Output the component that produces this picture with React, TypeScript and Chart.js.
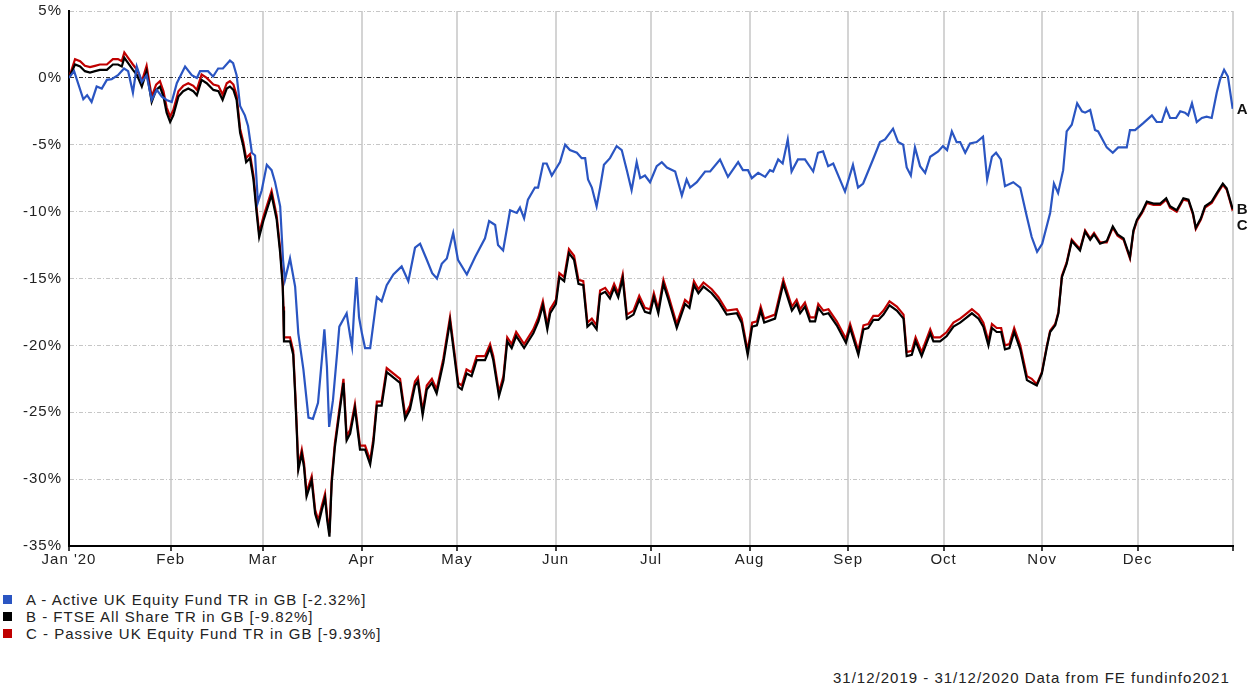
import React, { useEffect, useRef } from 'react';
import { Chart, registerables } from 'chart.js';

Chart.register(...registerables);

// x values are calendar days counted from 31/12/2019 (day 0)
const monthTickDays = [0, 32, 61, 92, 122, 153, 183, 214, 245, 275, 306, 336, 366];
const monthLabels = ["Jan '20", 'Feb', 'Mar', 'Apr', 'May', 'Jun', 'Jul', 'Aug', 'Sep', 'Oct', 'Nov', 'Dec', ''];

const seriesNames = [
  'A - Active UK Equity Fund TR in GB [-2.32%]',
  'B - FTSE All Share TR in GB [-9.82%]',
  'C - Passive UK Equity Fund TR in GB [-9.93%]',
];
const seriesTags = ['A', 'B', 'C'];
const seriesColors = ['#2a55c2', '#000000', '#c00000'];
const footerText = '31/12/2019 - 31/12/2020 Data from FE fundinfo2021';

const daysA = [
  0, 1.6, 4.5, 5.7, 7.1, 8.7, 10.3, 11.9, 13.4, 15.4,
  17.3, 18.6, 20.1, 21.3, 22.9, 24.4, 26.0, 27.6, 29.2, 30.7,
  32.3, 33.9, 36.5, 38.6, 40.2, 41.2, 43.7, 45.3, 46.9, 48.4,
  50.6, 51.6, 52.7, 53.8, 55.3, 56.3, 57.5, 58.5, 59.4, 60.6,
  62.2, 63.7, 64.8, 66.4, 67.3, 67.9, 69.5, 71.1, 72.1, 73.7,
  75.3, 76.7, 78.3, 79.6, 80.3, 81.1, 81.8, 83.0, 84.3, 85.0,
  87.3, 88.4, 89.0, 89.6, 90.4, 91.2, 92.1, 93.1, 94.7, 96.8,
  98.3, 99.9, 102.0, 104.6, 106.7, 108.8, 110.4, 112.5, 114.2, 115.7,
  117.2, 118.8, 120.8, 122.3, 125.1, 127.7, 130.8, 132.1, 134.0, 134.9,
  136.5, 138.7, 140.8, 141.8, 143.1, 144.3, 146.5, 147.5, 149.1, 150.2,
  151.8, 154.4, 156.0, 157.5, 159.7, 161.2, 162.3, 163.2, 164.4, 165.9,
  167.0, 168.2, 170.1, 172.2, 173.8, 175.4, 176.9, 178.5, 179.6, 181.1,
  182.7, 184.8, 186.4, 188.0, 190.6, 192.7, 194.2, 195.3, 197.4, 200.0,
  201.6, 204.7, 207.2, 210.4, 211.9, 213.5, 214.7, 216.7, 218.9, 220.4,
  221.4, 223.0, 224.4, 226.0, 227.2, 229.2, 231.4, 234.0, 235.5, 237.1,
  238.7, 240.3, 244.0, 246.5, 248.1, 249.7, 252.8, 255.0, 256.6, 259.1,
  260.7, 262.3, 263.4, 264.7, 266.0, 267.6, 269.2, 270.8, 273.3, 274.8,
  276.1, 277.6, 279.1, 280.2, 281.8, 283.3, 285.4, 287.4, 288.7, 290.2,
  291.5, 293.0, 294.3, 296.9, 299.1, 301.2, 302.7, 304.4, 306.0, 308.5,
  309.7, 311.0, 312.6, 313.7, 315.3, 317.0, 318.5, 319.5, 321.1, 322.6,
  323.6, 326.3, 328.2, 329.9, 332.6, 333.6, 335.2, 337.7, 340.5, 342.0,
  343.6, 345.0, 346.2, 348.1, 349.4, 350.9, 351.9, 353.1, 354.6, 356.2,
  357.7, 359.3, 360.9, 361.9, 363.2, 364.4, 365.9,
];
const valsA = [
  0, 0.5, -1.6, -1.3, -1.8, -0.65, -0.8, -0.15, -0.1, 0.2,
  0.7, 0.5, -1.1, 0.85, -0.3, 0.2, -1.65, -0.9, -1.4, -1.65,
  -1.8, -0.4, 0.85, 0.2, 0, 0.5, 0.5, 0.1, 0.7, 0.7,
  1.3, 1.1, 0.2, -2.1, -2.8, -3.6, -5.6, -5.8, -9.3, -8.4,
  -6.5, -6.9, -7.8, -9.6, -13.6, -15.1, -13.5, -15.6, -19.1, -21.8,
  -25.4, -25.5, -24.3, -20.8, -18.8, -21.6, -26.1, -24.1, -20.6, -18.6,
  -17.6, -19.3, -20.1, -17.6, -14.9, -17.9, -19.1, -20.2, -20.2, -16.4,
  -16.7, -15.5, -14.7, -14.1, -15.2, -12.7, -12.4, -13.6, -14.6, -15.0,
  -13.9, -13.5, -11.6, -13.6, -14.7, -13.4, -12.0, -10.7, -11.0, -12.5,
  -12.9, -9.9, -10.1, -9.7, -10.5, -9.1, -8.2, -8.2, -6.4, -6.4,
  -7.3, -6.3, -5.0, -5.4, -5.6, -6.0, -6.0, -7.6, -8.2, -9.6,
  -8.2, -6.5, -6.0, -5.1, -5.4, -6.9, -8.4, -6.3, -7.5, -7.3,
  -7.8, -6.6, -6.3, -6.7, -7.0, -8.8, -7.6, -8.2, -7.8, -7.0,
  -7.0, -6.1, -7.4, -6.3, -6.9, -6.9, -7.5, -7.1, -7.4, -6.9,
  -7.0, -6.1, -6.4, -4.6, -7.0, -6.1, -6.1, -7.0, -5.6, -5.5,
  -6.6, -6.4, -8.5, -6.5, -8.2, -7.9, -6.1, -4.8, -4.6, -3.8,
  -4.8, -5.0, -6.7, -7.3, -5.2, -6.6, -7.1, -5.9, -5.5, -5.1,
  -5.4, -4.0, -4.8, -4.8, -5.6, -4.9, -4.8, -4.4, -7.6, -5.9,
  -5.6, -6.1, -8.1, -7.8, -8.2, -10.4, -11.9, -13.0, -12.4, -10.1,
  -7.9, -8.6, -6.9, -4.0, -3.5, -1.9, -2.5, -2.6, -2.4, -3.9,
  -4.0, -5.2, -5.6, -5.2, -5.2, -3.9, -3.9, -3.4, -2.8, -3.3,
  -3.3, -2.3, -3.0, -3.0, -2.5, -2.6, -2.8, -1.9, -3.3, -3.0,
  -2.9, -3.0, -1.1, -0.15, 0.6, 0.1, -2.32,
];

const daysBC = [
  0, 1.9, 3.5, 5.0, 6.6, 8.2, 9.7, 11.9, 13.8, 15.4,
  16.6, 17.4, 18.6, 20.1, 21.4, 22.9, 24.4, 26.0, 27.4, 28.6,
  29.7, 30.7, 31.8, 32.8, 34.4, 35.9, 37.5, 39.1, 40.2, 41.7,
  43.3, 45.4, 47.0, 48.3, 49.6, 50.6, 51.7, 52.7, 53.8, 54.8,
  55.7, 56.9, 58.0, 59.0, 59.8, 61.1, 63.7, 65.3, 66.4, 67.2,
  67.4, 67.6, 69.5, 70.5, 71.1, 71.6, 72.1, 73.2, 73.9, 74.7,
  76.3, 77.4, 78.4, 79.5, 80.5, 81.2, 81.9, 82.6, 83.6, 85.0,
  86.3, 87.3, 88.4, 89.9, 91.5, 93.1, 94.7, 95.7, 96.8, 98.3,
  99.9, 104.1, 105.7, 107.2, 108.8, 109.7, 111.2, 112.5, 114.1, 115.6,
  117.7, 119.8, 120.8, 122.4, 123.5, 125.0, 126.6, 128.2, 130.8, 132.4,
  133.4, 135.2, 136.6, 137.8, 139.2, 140.6, 143.1, 146.0, 147.6, 149.0,
  150.4, 151.3, 153.1, 154.2, 155.7, 157.2, 158.8, 160.2, 161.7, 163.0,
  164.4, 165.9, 167.0, 168.6, 170.1, 171.4, 172.7, 174.1, 175.4, 177.5,
  179.3, 181.1, 182.7, 183.9, 185.3, 186.9, 188.5, 191.1, 193.7, 195.1,
  196.5, 197.9, 199.5, 202.1, 204.2, 206.8, 210.0, 211.5, 213.4, 214.8,
  216.3, 217.5, 218.6, 222.0, 224.6, 227.3, 228.8, 229.9, 231.4, 233.0,
  234.6, 235.6, 237.2, 238.8, 241.4, 244.3, 245.6, 248.2, 249.8, 251.3,
  252.9, 254.5, 256.1, 258.0, 260.3, 262.4, 263.4, 265.0, 266.2, 268.1,
  270.8, 271.8, 273.9, 276.0, 278.1, 280.2, 281.8, 283.9, 286.0, 287.5,
  289.1, 290.2, 291.7, 293.1, 294.3, 295.7, 297.2, 299.1, 301.2, 302.7,
  304.3, 305.9, 307.5, 308.5, 310.1, 311.1, 312.2, 313.7, 315.3, 316.4,
  317.9, 319.5, 321.1, 322.3, 324.2, 326.3, 328.2, 329.7, 331.6, 333.6,
  334.7, 335.8, 337.4, 338.9, 341.0, 343.1, 345.0, 346.2, 348.3, 350.4,
  352.0, 353.4, 354.3, 355.9, 357.2, 359.3, 361.2, 362.8, 364.0, 364.8,
  365.9,
];
const valsB = [
  0, 1.0, 0.85, 0.5, 0.4, 0.5, 0.6, 0.6, 1.0, 1.0,
  0.85, 1.5, 1.1, 0.6, 0.2, -0.65, 0.5, -1.8, -0.9, -0.65,
  -1.4, -2.6, -3.3, -2.8, -1.4, -1.0, -0.8, -1.0, -1.3, -0.15,
  -0.4, -0.9, -1.0, -1.65, -0.8, -0.65, -0.9, -1.65, -4.1, -5.1,
  -6.3, -6.0, -7.6, -10.1, -11.9, -10.7, -8.75, -10.6, -13.1, -15.6,
  -17.4, -19.7, -19.7, -20.7, -23.6, -26.3, -29.3, -28.1, -29.1, -31.3,
  -30.1, -32.6, -33.4, -32.3, -31.4, -33.1, -34.3, -30.3, -27.6, -25.1,
  -22.8, -27.1, -26.6, -24.7, -27.8, -27.8, -28.9, -27.3, -24.5, -24.5,
  -22.0, -22.8, -25.5, -24.8, -23.0, -22.7, -25.2, -23.3, -22.8, -23.6,
  -21.3, -18.2, -20.1, -23.1, -23.3, -22.1, -22.3, -21.1, -21.1, -20.2,
  -21.1, -23.8, -22.6, -19.7, -20.2, -19.3, -20.2, -19.1, -18.2, -17.0,
  -18.8, -17.6, -16.9, -14.9, -15.2, -13.1, -13.6, -15.4, -15.5, -18.6,
  -18.3, -18.8, -16.2, -16.0, -16.5, -15.7, -16.4, -15.0, -18.0, -17.7,
  -16.6, -17.5, -17.6, -16.4, -17.6, -15.4, -16.6, -18.7, -16.9, -17.2,
  -15.5, -16.1, -15.6, -16.1, -16.7, -17.7, -17.6, -18.3, -20.7, -18.6,
  -18.5, -17.4, -18.3, -18.0, -15.4, -17.4, -16.9, -17.6, -17.1, -18.2,
  -18.2, -17.2, -17.7, -17.6, -18.5, -19.8, -18.7, -20.7, -18.8, -18.7,
  -18.1, -18.1, -17.7, -17.0, -17.4, -18.0, -20.8, -20.7, -19.7, -20.8,
  -19.1, -19.7, -19.7, -19.3, -18.6, -18.3, -18.0, -17.6, -18.0, -18.6,
  -20.0, -18.7, -19.0, -19.0, -20.3, -20.2, -19.0, -20.3, -22.6, -22.8,
  -23.0, -22.1, -20.1, -19.0, -18.5, -17.6, -14.9, -13.9, -12.2, -12.5,
  -12.9, -11.5, -12.1, -11.7, -12.4, -12.2, -11.1, -11.7, -12.0, -13.4,
  -11.4, -10.6, -10.0, -9.25, -9.4, -9.4, -9.0, -9.6, -9.9, -9.0,
  -9.1, -10.1, -11.2, -10.5, -9.6, -9.25, -8.5, -7.9, -8.25, -8.9,
  -9.82,
];
const valsC = [
  0, 1.4, 1.25, 0.9, 0.8, 0.9, 1.0, 1.0, 1.4, 1.4,
  1.25, 1.9, 1.5, 1.0, 0.6, -0.25, 0.9, -1.4, -0.5, -0.25,
  -1.0, -2.2, -2.9, -2.4, -1.0, -0.6, -0.4, -0.6, -0.9, 0.25,
  0.0, -0.5, -0.6, -1.25, -0.4, -0.25, -0.5, -1.3, -3.8, -4.8,
  -6.0, -5.7, -7.3, -9.8, -11.6, -10.4, -8.45, -10.3, -12.8, -15.3,
  -17.1, -19.4, -19.4, -20.4, -23.3, -26.0, -29.0, -27.8, -28.8, -31.0,
  -29.8, -32.3, -33.1, -32.0, -31.1, -32.8, -34.0, -30.0, -27.3, -24.8,
  -22.5, -26.8, -26.3, -24.4, -27.5, -27.5, -28.6, -27.0, -24.2, -24.2,
  -21.7, -22.5, -25.2, -24.5, -22.7, -22.4, -24.9, -23.0, -22.5, -23.3,
  -21.0, -17.9, -19.8, -22.8, -23.0, -21.8, -22.0, -20.8, -20.8, -19.9,
  -20.8, -23.5, -22.3, -19.4, -19.9, -19.0, -19.9, -18.8, -17.9, -16.7,
  -18.5, -17.3, -16.6, -14.6, -14.9, -12.8, -13.3, -15.1, -15.2, -18.3,
  -18.0, -18.5, -15.9, -15.7, -16.2, -15.4, -16.1, -14.7, -17.7, -17.4,
  -16.3, -17.2, -17.3, -16.1, -17.3, -15.1, -16.3, -18.4, -16.6, -16.9,
  -15.2, -15.8, -15.3, -15.8, -16.4, -17.4, -17.3, -18.0, -20.4, -18.3,
  -18.2, -17.1, -18.0, -17.7, -15.1, -17.1, -16.6, -17.3, -16.8, -17.9,
  -17.9, -16.9, -17.4, -17.3, -18.2, -19.5, -18.4, -20.4, -18.5, -18.4,
  -17.8, -17.8, -17.4, -16.7, -17.1, -17.7, -20.5, -20.4, -19.4, -20.5,
  -18.8, -19.4, -19.4, -19.0, -18.3, -18.0, -17.7, -17.3, -17.7, -18.3,
  -19.7, -18.4, -18.7, -18.7, -20.0, -19.9, -18.7, -20.0, -22.3, -22.5,
  -22.9, -22.0, -20.0, -18.9, -18.4, -17.5, -14.8, -13.8, -12.1, -12.4,
  -12.8, -11.4, -12.0, -11.6, -12.3, -12.3, -11.2, -11.8, -12.1, -13.5,
  -11.5, -10.7, -10.1, -9.35, -9.5, -9.5, -9.1, -9.7, -10.0, -9.1,
  -9.2, -10.2, -11.3, -10.6, -9.7, -9.35, -8.6, -8.0, -8.35, -9.0,
  -9.93,
];

const FONT = '"Liberation Sans", Arial, Helvetica, sans-serif';
const CANVAS_W = 1252;
const CANVAS_H = 580;
const PLOT_TOP = 11;
const PLOT_BOTTOM = 546;

const toPoints = (xs: number[], ys: number[]) => xs.map((x, i) => ({ x, y: ys[i] }));

const textSpacingPlugin = {
  id: 'textSpacing',
  beforeDraw(chart: any) {
    chart.ctx.letterSpacing = '1px';
  },
};

const endTagPlugin = {
  id: 'endTags',
  afterDatasetsDraw(chart: any) {
    const ctx = chart.ctx;
    ctx.save();
    ctx.letterSpacing = '0px';
    ctx.font = `bold 15px ${FONT}`;
    ctx.fillStyle = '#111';
    ctx.textAlign = 'left';
    ctx.textBaseline = 'middle';
    let prevY = -Infinity;
    chart.data.datasets.forEach((ds: any, i: number) => {
      const meta = chart.getDatasetMeta(i);
      const pt = meta.data[meta.data.length - 1];
      if (!pt) return;
      const y = Math.max(pt.y + 1, prevY + 16);
      ctx.fillText(seriesTags[i], pt.x + 4, y);
      prevY = y;
    });
    ctx.restore();
  },
};

export default function App() {
  const canvasRef = useRef<HTMLCanvasElement>(null);

  useEffect(() => {
    const canvas = canvasRef.current;
    if (!canvas) return;
    const chart = new Chart(canvas, {
      type: 'line',
      data: {
        datasets: [
          { label: seriesNames[0], data: toPoints(daysA, valsA), borderColor: seriesColors[0], backgroundColor: seriesColors[0], borderWidth: 2.2, pointRadius: 0, tension: 0, order: 0 },
          { label: seriesNames[1], data: toPoints(daysBC, valsB), borderColor: seriesColors[1], backgroundColor: seriesColors[1], borderWidth: 2.2, pointRadius: 0, tension: 0, order: 1 },
          { label: seriesNames[2], data: toPoints(daysBC, valsC), borderColor: seriesColors[2], backgroundColor: seriesColors[2], borderWidth: 2.2, pointRadius: 0, tension: 0, order: 2 },
        ],
      },
      options: {
        responsive: false,
        maintainAspectRatio: false,
        devicePixelRatio: 1,
        animation: false,
        events: [],
        layout: { padding: { left: 0, right: 19, top: PLOT_TOP, bottom: 0 } },
        plugins: {
          legend: { display: false },
          tooltip: { enabled: false },
          title: { display: false },
        },
        scales: {
          x: {
            type: 'linear',
            min: 0,
            max: 366,
            afterBuildTicks: (scale: any) => {
              scale.ticks = monthTickDays.map((v) => ({ value: v }));
            },
            afterFit: (scale: any) => {
              scale.height = CANVAS_H - PLOT_BOTTOM;
              scale.paddingTop = 0;
              scale.paddingBottom = 0;
            },
            ticks: {
              autoSkip: false,
              maxRotation: 0,
              padding: 1,
              color: '#222',
              font: { family: FONT, size: 15, lineHeight: 1 },
              callback: (_v: any, i: number) => monthLabels[i],
            },
            grid: {
              color: '#d4d4d4',
              lineWidth: 2,
              drawTicks: true,
              tickLength: 5,
              tickColor: '#000',
              tickWidth: 1.5,
            },
            border: { display: true, color: '#000', width: 2 },
          },
          y: {
            min: -35,
            max: 5,
            afterFit: (scale: any) => {
              scale.width = 69;
              scale.paddingTop = 0;
              scale.paddingBottom = 0;
            },
            ticks: {
              stepSize: 5,
              padding: 7,
              color: '#222',
              font: { family: FONT, size: 15 },
              callback: (v: any) => `${v}%`,
            },
            grid: {
              color: (c: any) => (c.tick && c.tick.value === 0 ? '#333' : '#c6c6c6'),
              lineWidth: 1,
              drawTicks: false,
            },
            border: { display: true, color: '#000', width: 2, dash: [4, 2, 1, 2] },
          },
        },
      },
      plugins: [textSpacingPlugin, endTagPlugin],
    } as any);
    return () => chart.destroy();
  }, []);

  const rowTops = [591, 608, 625];

  return (
    <div
      style={{
        position: 'absolute',
        left: 0,
        top: 0,
        width: 1252,
        height: 688,
        background: '#fff',
        overflow: 'hidden',
        fontFamily: FONT,
      }}
    >
      <canvas
        ref={canvasRef}
        width={CANVAS_W}
        height={CANVAS_H}
        style={{ position: 'absolute', left: 0, top: 0, width: CANVAS_W, height: CANVAS_H }}
      />
      {seriesNames.map((name, i) => (
        <div
          key={name}
          style={{
            position: 'absolute',
            left: 0,
            top: rowTops[i],
            height: 17,
            width: 600,
            lineHeight: '17px',
            fontSize: 15,
            letterSpacing: '1px',
            color: '#222',
            whiteSpace: 'nowrap',
          }}
        >
          <span
            style={{
              position: 'absolute',
              left: 3,
              top: 4,
              width: 9,
              height: 9,
              background: seriesColors[i],
            }}
          />
          <span style={{ position: 'absolute', left: 26, top: 0 }}>{name}</span>
        </div>
      ))}
      <div
        style={{
          position: 'absolute',
          left: 833,
          top: 669,
          lineHeight: '17px',
          fontSize: 15,
          letterSpacing: '1px',
          color: '#222',
          whiteSpace: 'nowrap',
        }}
      >
        {footerText}
      </div>
    </div>
  );
}
